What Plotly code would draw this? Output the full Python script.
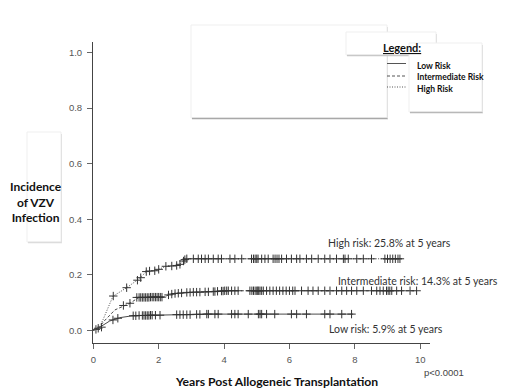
import plotly.graph_objects as go

# ---------------- data ----------------
x_ticks = [0, 2, 4, 6, 8, 10]
y_ticks = [0.0, 0.2, 0.4, 0.6, 0.8, 1.0]
y_tick_labels = ["0.0", "0.2", "0.4", "0.6", "0.8", "1.0"]

low_t = [0, 0.05, 0.12, 0.2, 0.3, 0.5, 0.8, 1.2, 1.9, 2.6, 3.4, 7.95]
low_y = [0, 0.004, 0.008, 0.012, 0.02, 0.034, 0.046, 0.053, 0.055, 0.057, 0.059, 0.059]
low_cens_t = [0.08, 0.15, 0.25, 0.6, 0.75,
              1.22, 1.3, 1.4, 1.5, 1.55, 1.6, 1.65, 1.7, 1.75, 1.8, 1.9, 2.04,
              2.55, 2.65, 2.75, 2.86, 2.96, 3.16, 3.26,
              3.47, 3.52, 3.72, 3.82, 4.23, 4.33, 4.43, 4.74, 5.05, 5.1, 5.15, 5.3,
              5.55, 6.06, 6.22, 6.52, 7.08, 7.24, 7.6, 7.9]
low_cens_y = [0.004, 0.008, 0.012, 0.038, 0.044,
              0.053, 0.053, 0.054, 0.054, 0.054, 0.054, 0.054, 0.054, 0.055, 0.055, 0.055, 0.055,
              0.057, 0.057, 0.057, 0.057, 0.057, 0.058, 0.058,
              0.059, 0.059, 0.059, 0.059, 0.059, 0.059, 0.059, 0.059, 0.059, 0.059, 0.059, 0.059,
              0.059, 0.059, 0.059, 0.059, 0.059, 0.059, 0.059, 0.059]

int_t = [0, 0.1, 0.2, 0.3, 0.66, 1.12, 1.38, 2.14, 2.35, 2.6, 2.96, 4.0, 9.9]
int_y = [0, 0.006, 0.012, 0.03, 0.074, 0.098, 0.118, 0.12, 0.13, 0.134, 0.137, 0.143, 0.143]
int_cens_t = [0.92, 1.12,
              1.33, 1.4, 1.45, 1.5, 1.55, 1.6, 1.65, 1.7, 1.75, 1.8, 1.85, 1.9, 1.95, 2.0, 2.05, 2.1,
              2.3, 2.4, 2.5, 2.6, 2.7,
              2.86, 2.96, 3.06, 3.16, 3.26, 3.42, 3.52, 3.67,
              3.72, 3.8, 3.92, 3.97, 4.02, 4.08, 4.13,
              4.23, 4.33, 4.43, 4.79, 4.85, 4.9, 4.95, 5.0, 5.03, 5.06, 5.1, 5.15, 5.2, 5.3,
              5.4, 5.5, 5.6, 5.7, 5.8, 5.9, 6.0, 6.1, 6.17, 6.37, 6.57, 6.72, 6.88, 7.08,
              7.24, 7.44, 7.6, 7.75, 7.9, 8.06, 8.26, 8.51, 8.67, 8.77, 8.87, 8.97, 9.02,
              9.07, 9.13, 9.28, 9.43, 9.69, 9.89]
int_cens_y = [0.09, 0.098,
              0.119, 0.119, 0.119, 0.119, 0.119, 0.119, 0.119, 0.119, 0.12, 0.12, 0.12, 0.12, 0.12, 0.12, 0.12, 0.12,
              0.128, 0.131, 0.133, 0.134, 0.135,
              0.137, 0.137, 0.138, 0.138, 0.138, 0.139, 0.139, 0.14,
              0.14, 0.141, 0.142, 0.142, 0.143, 0.143, 0.143,
              0.143, 0.143, 0.143, 0.143, 0.143, 0.143, 0.143, 0.143, 0.143, 0.143, 0.143, 0.143, 0.143, 0.143,
              0.143, 0.143, 0.143, 0.143, 0.143, 0.143, 0.143, 0.143, 0.143, 0.143, 0.143, 0.143, 0.143, 0.143,
              0.143, 0.143, 0.143, 0.143, 0.143, 0.143, 0.143, 0.143, 0.143, 0.143, 0.143, 0.143, 0.143,
              0.143, 0.143, 0.143, 0.143, 0.143, 0.143]

high_t = [0, 0.1, 0.2, 0.3, 0.6, 1.02, 1.4, 1.63, 1.9, 2.22, 2.6, 2.8, 2.9, 9.45]
high_y = [0, 0.005, 0.015, 0.04, 0.123, 0.154, 0.186, 0.213, 0.215, 0.231, 0.234, 0.255, 0.258, 0.258]
high_cens_t = [0.61, 1.02, 1.35, 1.45, 1.62, 1.72, 1.88, 2.0, 2.22, 2.4, 2.55, 2.65, 2.76, 2.8, 2.86,
               3.06, 3.21, 3.31, 3.42, 3.52, 3.67, 3.82, 3.92, 4.18, 4.33, 4.54, 4.84, 4.9, 4.95,
               5.0, 5.04, 5.15, 5.25, 5.35, 5.5, 5.56, 5.62, 5.68, 5.76, 5.91, 6.06, 6.22, 6.32,
               6.52, 6.68, 6.88, 7.08, 7.24, 7.44, 7.65, 7.7, 7.8, 8.06, 8.26, 8.51, 8.92, 9.0,
               9.08, 9.16, 9.24, 9.32, 9.38]
high_cens_y = [0.124, 0.154, 0.181, 0.19, 0.212, 0.214, 0.215, 0.22, 0.231, 0.232, 0.234, 0.238, 0.25, 0.255, 0.258,
               0.258, 0.258, 0.258, 0.258, 0.258, 0.258, 0.258, 0.258, 0.258, 0.258, 0.258, 0.258, 0.258, 0.258,
               0.258, 0.258, 0.258, 0.258, 0.258, 0.258, 0.258, 0.258, 0.258, 0.258, 0.258, 0.258, 0.258, 0.258,
               0.258, 0.258, 0.258, 0.258, 0.258, 0.258, 0.258, 0.258, 0.258, 0.258, 0.258, 0.258, 0.258, 0.258,
               0.258, 0.258, 0.258, 0.258, 0.258]

series_names = ["Low Risk", "Intermediate Risk", "High Risk"]
curve_labels = ["Low risk: 5.9% at 5 years",
                "Intermediate risk: 14.3% at 5 years",
                "High risk: 25.8% at 5 years"]
p_value_text = "p<0.0001"
x_title = "Years Post Allogeneic Transplantation"
y_title_lines = ["Incidence", "of VZV", "Infection"]

# ---------------- figure ----------------
LINE_COL = "#4a4a4a"
MARK_COL = "#333333"
curves = [(low_t, low_y, low_cens_t, low_cens_y, "solid"),
          (int_t, int_y, int_cens_t, int_cens_y, "3px,2px"),
          (high_t, high_y, high_cens_t, high_cens_y, "1px,1.5px")]

fig = go.Figure()
for (t, y, ct, cy, dash), name in zip(curves, series_names):
    fig.add_trace(go.Scatter(x=t, y=y, mode="lines", name=name, showlegend=False,
                             line=dict(color=LINE_COL, width=1, dash=dash)))
    fig.add_trace(go.Scatter(x=ct, y=cy, mode="markers", showlegend=False,
                             marker=dict(symbol="cross-thin", size=6,
                                         line=dict(color=MARK_COL, width=1))))

# plot area in pixels
L, R, T, B = 93, 430, 42, 343
W, H = R - L, B - T


def px(x):
    return (x - L) / W


def py(y):
    return (B - y) / H


shapes = []
annotations = []


def box(x0, y0, x1, y1, shadow_col):
    shapes.append(dict(type="rect", xref="paper", yref="paper", x0=px(x0), x1=px(x1),
                       y0=py(y1), y1=py(y0), fillcolor="white",
                       line=dict(color="#efefef", width=1), layer="above"))
    shapes.append(dict(type="line", xref="paper", yref="paper", x0=px(x0 + 1), x1=px(x1 + 1),
                       y0=py(y1 + 0.5), y1=py(y1 + 0.5),
                       line=dict(color=shadow_col, width=1.5), layer="above"))
    shapes.append(dict(type="line", xref="paper", yref="paper", x0=px(x1 + 0.5), x1=px(x1 + 0.5),
                       y0=py(y0 + 2), y1=py(y1 + 0.5),
                       line=dict(color="#e2e2e2", width=1), layer="above"))


# y title shadow box
box(27, 132, 61, 242, "#dcdcdc")
# legend boxes
box(191, 25, 387, 118, "#a8a8a8")
box(346, 32, 436, 55, "#c8c8c8")
box(409, 43, 482, 112, "#b8b8b8")

# legend line samples
for yy, dash in [(63.5, "solid"), (76, "3px,2px"), (87, "1px,1.5px")]:
    shapes.append(dict(type="line", xref="paper", yref="paper", x0=px(387), x1=px(406),
                       y0=py(yy), y1=py(yy), layer="above",
                       line=dict(color="#555", width=1, dash=dash)))

for name, yy in zip(series_names, [65.5, 76.7, 89]):
    annotations.append(dict(text=name, xref="paper", yref="paper", x=px(415), y=py(yy),
                            xanchor="left", yanchor="middle", showarrow=False,
                            font=dict(family="Lato", size=8.5, color="#111", weight="bold")))
annotations.append(dict(text="<u>Legend:</u>", xref="paper", yref="paper", x=px(402), y=py(47),
                        xanchor="center", yanchor="middle", showarrow=False,
                        font=dict(family="Lato", size=11, color="#111", weight="bold")))

# curve annotations
for txt, cx, cy in zip(curve_labels, [385.5, 418, 389], [329, 281, 242.5]):
    annotations.append(dict(text=txt, xref="paper", yref="paper", x=px(cx), y=py(cy),
                            xanchor="center", yanchor="middle", showarrow=False,
                            font=dict(family="Lato", size=10.5, color="#333")))

annotations.append(dict(text=p_value_text, xref="paper", yref="paper", x=px(444), y=py(372.5),
                        xanchor="center", yanchor="middle", showarrow=False,
                        font=dict(family="Liberation Sans", size=9.5, color="#444")))
annotations.append(dict(text=x_title, xref="paper", yref="paper", x=px(276.5), y=py(381),
                        xanchor="center", yanchor="middle", showarrow=False,
                        font=dict(family="Lato", size=12.2, color="#111", weight="bold")))
annotations.append(dict(text="<br>".join(y_title_lines), xref="paper", yref="paper",
                        x=px(36), y=py(202), xanchor="center", yanchor="middle",
                        showarrow=False, align="center",
                        font=dict(family="Lato", size=12, color="#111", weight="bold")))

fig.update_layout(
    width=520, height=390,
    margin=dict(l=L, r=520 - R, t=T, b=390 - B, pad=0),
    paper_bgcolor="white", plot_bgcolor="white",
    shapes=shapes, annotations=annotations,
    xaxis=dict(range=[-0.01, 10.3], tickvals=x_ticks, showgrid=False, zeroline=False,
               showline=True, linecolor="#444", linewidth=1, ticks="outside", ticklen=5,
               ticklabelstandoff=3,
               tickcolor="#666", tickfont=dict(family="Liberation Sans", size=9.5, color="#555")),
    yaxis=dict(range=[-0.045, 1.038], tickvals=y_ticks, ticktext=y_tick_labels,
               showgrid=False, zeroline=False, showline=True, linecolor="#444", linewidth=1,
               ticks="outside", ticklen=5, tickcolor="#666", ticklabelstandoff=3,
               tickfont=dict(family="Liberation Sans", size=9.5, color="#555")),
)

fig.write_html("out.html", config={"displayModeBar": False},
               post_script="document.body.style.margin='0px';document.body.style.padding='0px';")
